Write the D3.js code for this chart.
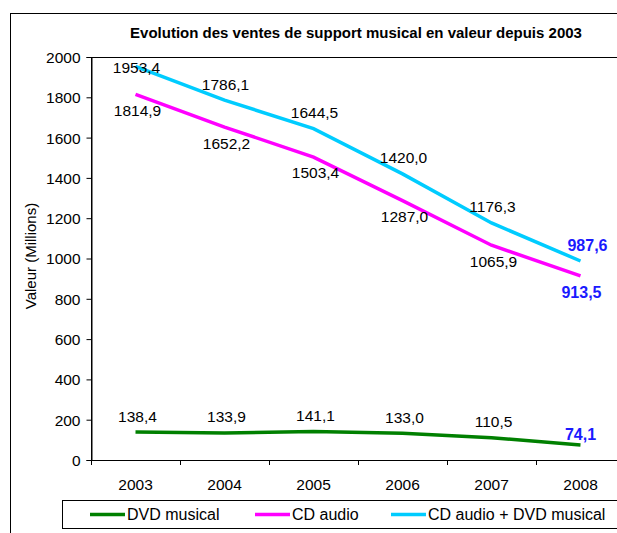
<!DOCTYPE html>
<html>
<head>
<meta charset="utf-8">
<style>
body { margin: 0; background: #fff; }
svg text { font-family: "Liberation Sans", Arial, sans-serif; fill: #000; }
</style>
</head>
<body>
<div id="chart"></div>
<script src="https://cdn.jsdelivr.net/npm/d3@7"></script>
<script>
// chart values
const years = ["2003", "2004", "2005", "2006", "2007", "2008"];
const dvd = [138.4, 133.9, 141.1, 133.0, 110.5, 74.1];
const cd = [1814.9, 1652.2, 1503.4, 1287.0, 1065.9, 913.5];
const total = [1953.4, 1786.1, 1644.5, 1420.0, 1176.3, 987.6];
const yTicks = [0, 200, 400, 600, 800, 1000, 1200, 1400, 1600, 1800, 2000];

const width = 617, height = 533;
const plot = {left: 91, right: 625, top: 57, bottom: 460};

const svg = d3.select("#chart").append("svg")
    .attr("width", width)
    .attr("height", height);

// outer frame
svg.append("rect")
    .attr("x", 10.5).attr("y", 13.5)
    .attr("width", 640).attr("height", 540)
    .attr("fill", "none").attr("stroke", "#000");

svg.append("text")
    .attr("x", 356).attr("y", 38)
    .attr("text-anchor", "middle")
    .style("font-size", "15px").style("font-weight", "bold")
    .text("Evolution des ventes de support musical en valeur depuis 2003");

const x = d3.scaleBand().domain(years).range([plot.left, plot.right]);
const y = d3.scaleLinear().domain([0, 2000]).range([plot.bottom, plot.top]);
const cx = d => x(d) + x.bandwidth() / 2;

// plot area border
svg.append("rect")
    .attr("x", plot.left + 0.5).attr("y", plot.top + 0.5)
    .attr("width", plot.right - plot.left).attr("height", plot.bottom - plot.top)
    .attr("fill", "none").attr("stroke", "#000");

const yAxis = svg.append("g")
    .attr("transform", `translate(${plot.left + 0.5},0)`)
    .call(d3.axisLeft(y).tickValues(yTicks).tickSize(5).tickPadding(6).tickFormat(d3.format("d")));
yAxis.selectAll("text").style("font-size", "15.5px").attr("dy", "0.35em");

const xAxis = svg.append("g")
    .attr("transform", `translate(0,${plot.bottom + 0.5})`)
    .call(d3.axisBottom(x).tickSize(0).tickPadding(18));
xAxis.selectAll("text").style("font-size", "15.5px");
xAxis.select(".domain").remove();
// ticks between categories
const bounds = years.map(d => x(d)).concat([plot.right]);
svg.append("g").selectAll("line").data(bounds).join("line")
    .attr("x1", d => Math.round(d) + 0.5).attr("x2", d => Math.round(d) + 0.5)
    .attr("y1", plot.bottom).attr("y2", plot.bottom + 5)
    .attr("stroke", "#000");
svg.append("line")
    .attr("x1", plot.left).attr("x2", plot.right)
    .attr("y1", plot.bottom + 0.5).attr("y2", plot.bottom + 0.5)
    .attr("stroke", "#000");
svg.selectAll(".domain").attr("stroke", "#000");

svg.append("text")
    .attr("transform", `translate(36,256) rotate(-90)`)
    .attr("text-anchor", "middle")
    .style("font-size", "15px")
    .text("Valeur (Millions)");

const series = [
    {name: "DVD musical", values: dvd, color: "#008000"},
    {name: "CD audio", values: cd, color: "#ff00ff"},
    {name: "CD audio + DVD musical", values: total, color: "#00ccff"}
];

const line = d3.line()
    .x((d, i) => cx(years[i]))
    .y(d => y(d));

svg.append("g").selectAll("path").data(series).join("path")
    .attr("d", s => line(s.values))
    .attr("fill", "none")
    .attr("stroke", s => s.color)
    .attr("stroke-width", 3.5);

const fmt = v => v.toFixed(1).replace(".", ",");
const last = years.length - 1;

function labels(values, yFn, dx, dxLast) {
    svg.append("g").selectAll("text").data(values).join("text")
        .attr("x", (d, i) => cx(years[i]) + (i === last ? dxLast : dx))
        .attr("y", (d, i) => yFn(d, i))
        .attr("dy", "0.35em")
        .attr("text-anchor", "middle")
        .style("font-size", (d, i) => i === last ? "16px" : "15.5px")
        .style("font-weight", (d, i) => i === last ? "bold" : "normal")
        .style("fill", (d, i) => i === last ? "#1a1aff" : "#000")
        .text(fmt);
}

labels(total, d => Math.max(y(d) - 16, plot.top + 11), 1, 7);
labels(cd, d => y(d) + 16, 2, 1);
labels(dvd, (d, i) => y(d) - (i === last ? 11 : 16), 2, 0);

// legend
const legend = svg.append("g");
legend.append("rect")
    .attr("x", 62.5).attr("y", 500.5)
    .attr("width", 600).attr("height", 28)
    .attr("fill", "#fff").attr("stroke", "#000");
const legendX = [90, 255, 391];
const item = legend.selectAll("g.item").data(series).join("g")
    .attr("class", "item")
    .attr("transform", (s, i) => `translate(${legendX[i]},514.5)`);
item.append("line")
    .attr("x1", 0).attr("x2", 35)
    .attr("stroke", s => s.color).attr("stroke-width", 3.5);
item.append("text")
    .attr("x", 37).attr("dy", "0.35em")
    .style("font-size", "16px")
    .text(s => s.name);
</script>
</body>
</html>
